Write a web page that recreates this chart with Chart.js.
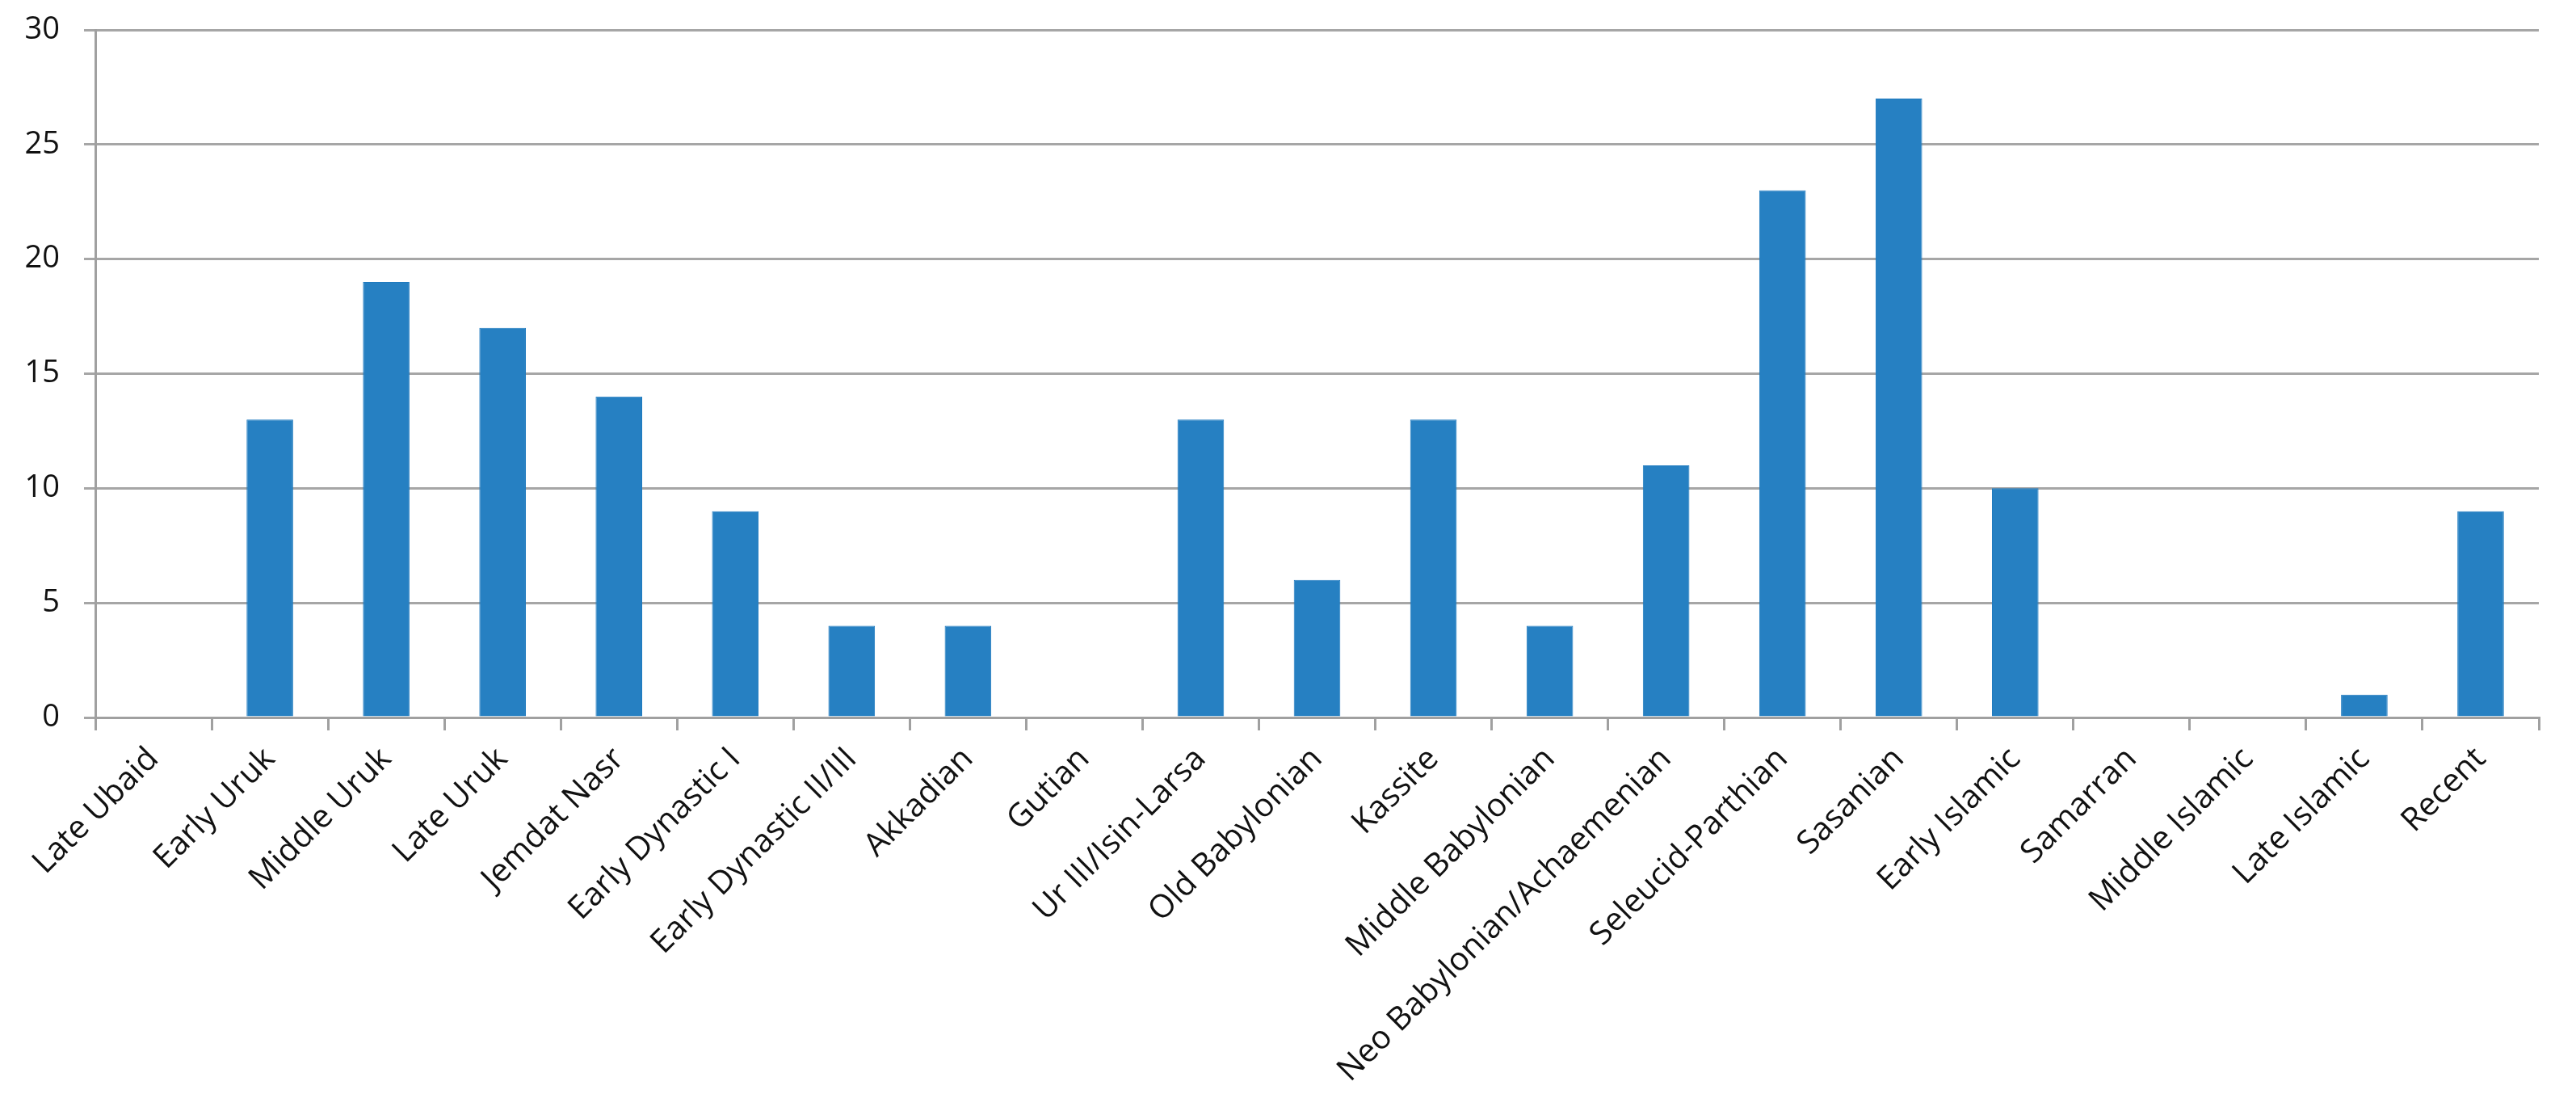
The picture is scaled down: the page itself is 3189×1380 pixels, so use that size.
<!DOCTYPE html>
<html>
<head>
<meta charset="utf-8">
<title>Sites by period</title>
<script src="https://cdn.jsdelivr.net/npm/chart.js@4"></script>
<style>
	body { margin: 0; background: #fff; }
	#chart { display: block; }
</style>
</head>
<body>
<canvas id="chart" width="3189" height="1380"></canvas>
<script>
// Periods along the x axis
const periods = [
	"Late Ubaid", "Early Uruk", "Middle Uruk", "Late Uruk", "Jemdat Nasr",
	"Early Dynastic I", "Early Dynastic II/III", "Akkadian", "Gutian",
	"Ur III/Isin-Larsa", "Old Babylonian", "Kassite", "Middle Babylonian",
	"Neo Babylonian/Achaemenian", "Seleucid-Parthian", "Sasanian",
	"Early Islamic", "Samarran", "Middle Islamic", "Late Islamic", "Recent"
];

// Count for each period
const siteCounts = [0, 13, 19, 17, 14, 9, 4, 4, 0, 13, 6, 13, 4, 11, 23, 27, 10, 0, 0, 1, 9];

// y axis ticks
const yTicks = [0, 5, 10, 15, 20, 25, 30];

window.addEventListener("load", e => {
	drawChart();
});

function drawChart() {
	const ctx = document.getElementById("chart").getContext("2d");
	const fontFace = "'Open Sans', 'DejaVu Sans', sans-serif";

	new Chart(ctx, {
		type: "bar",
		data: {
			labels: periods,
			datasets: [
				{
					data: siteCounts,
					backgroundColor: "#2680c2",
					borderColor: "#1f7abf",
					borderWidth: 1,
					categoryPercentage: 1,
					barPercentage: 0.4,
				},
			],
		},
		options: {
			responsive: false,
			animation: false,
			layout: {
				padding: { top: 37, right: 46, left: 0, bottom: 0 },
			},
			plugins: {
				legend: { display: false },
				tooltip: { enabled: false },
			},
			scales: {
				x: {
					grid: {
						offset: true,
						drawOnChartArea: false,
						drawTicks: true,
						tickLength: 16,
						color: "#a0a0a0",
						lineWidth: 3,
					},
					border: { color: "#a0a0a0", width: 3 },
					ticks: {
						autoSkip: false,
						maxRotation: 45,
						minRotation: 45,
						padding: 12,
						color: "#111",
						font: { family: fontFace, size: 40 },
					},
					afterFit: scale => {
						scale.height = 1380 - 888;
					},
				},
				y: {
					min: 0,
					max: 30,
					afterBuildTicks: scale => {
						scale.ticks = yTicks.map(v => ({ value: v }));
					},
					grid: {
						color: "#a6a6a6",
						lineWidth: 3,
						tickLength: 14,
					},
					border: { color: "#a0a0a0", width: 3 },
					ticks: {
						padding: 30,
						color: "#111",
						font: { family: fontFace, size: 38 },
					},
					afterFit: scale => {
						// fixed width, and no extra room above/below for the labels
						scale.width = 118;
						scale.paddingTop = 0;
						scale.paddingBottom = 0;
					},
				},
			},
		},
	});
}
</script>
</body>
</html>
